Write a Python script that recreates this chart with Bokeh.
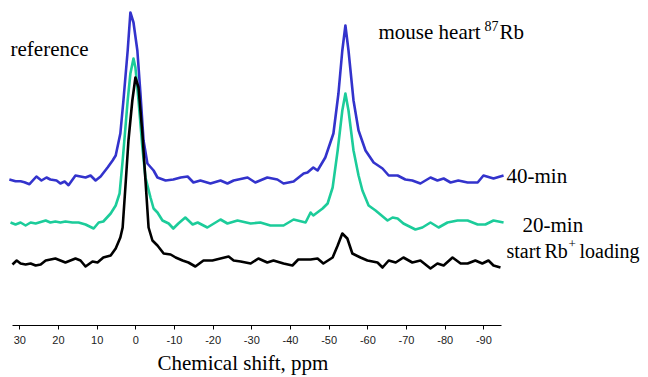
import numpy as np
from bokeh.plotting import figure
from bokeh.models import Range1d, FixedTicker, Label, Title
from bokeh.embed import file_html
from bokeh.resources import INLINE

# ---- data (chemical shift in ppm, intensity in arbitrary units relative to each baseline) ----
ppm_40 = [32.7, 31.1, 29.8, 28.8, 27.5, 25.7, 24.4, 23.1, 22.1, 20.5, 19.5, 18.4, 17.4, 15.6, 14.3,
          13.0, 11.7, 10.4, 9.1, 7.3, 6.0, 5.2, 4.0, 3.2, 2.1, 1.4, 0.6, -0.4, -1.2, -2.0, -3.0,
          -4.6, -5.6, -7.7, -9.7, -11.6, -13.4, -14.9, -16.7, -19.3, -21.9, -23.7, -25.3, -28.9,
          -30.9, -34.0, -36.6, -38.2, -40.8, -43.4, -44.4, -45.9, -47.0, -49.0, -51.1, -52.4,
          -53.4, -54.2, -55.0, -56.3, -57.6, -59.4, -61.5, -63.8, -65.4, -67.7, -69.7, -71.5,
          -73.6, -76.2, -78.0, -79.6, -81.4, -83.4, -85.8, -88.4, -89.9, -92.5, -95.1]
int_40 = [1, -0.7, -0.7, -1.7, -3.7, 4, 0, 3, 1, 0, -3, -1, -4.7, 5, 4,
          3, 5, 0, 4, 13, 20, 25, 47, 80, 130, 168, 158, 130, 87, 40, 17,
          10, 3, 0, 1, 3, 4, -2, 0, -3, 0, -3, 0, 3,
          -2, 3, 1, -3, -1, 7, 8, 13, 10, 23, 47, 87,
          130, 155, 130, 80, 50, 30, 18, 12, 5, 5, 1, 0,
          -3, 3, 0, 2, -2, 0, -2, -2, 5, 2, 5]

ppm_20 = [32.4, 31.1, 29.8, 28.5, 27.2, 25.9, 23.3, 22.1, 20.8, 19.5, 18.2, 16.4, 14.8, 13.0,
          10.9, 9.6, 8.4, 6.5, 5.2, 4.2, 3.4, 2.1, 1.4, 0.6, 0.1, -0.7, -1.7, -2.5, -3.8, -4.6,
          -5.6, -6.9, -8.5, -9.7, -11.0, -12.8, -14.7, -16.0, -18.5, -21.9, -23.7, -26.3, -29.7,
          -32.2, -34.8, -38.2, -40.8, -43.9, -45.2, -45.9, -48.3, -49.6, -50.9, -52.2, -53.4,
          -54.2, -55.0, -56.3, -57.6, -58.6, -60.2, -62.0, -65.1, -66.4, -67.7, -69.2, -72.3,
          -74.1, -76.2, -78.3, -80.6, -83.2, -85.8, -88.4, -90.4, -92.5, -95.1]
int_20 = [0, -2, 0, -3, 0, -1, 2, 0, 1, 0, 1, 0, 0, -2,
          -6, 0, 1, 9, 17, 29, 62, 122, 149, 164, 155, 122, 75, 45, 25, 14,
          10, 2, -1, -6, -1, 5, -2, 0, -5, 3, -1, 2, -1,
          0, -3, -3, 3, 0, 10, 7, 14, 19, 35, 72, 112,
          129, 112, 72, 47, 32, 17, 12, 2, 5, 4, -1, -7,
          -5, 0, -5, 0, 2, 2, -2, -2, 2, 0]

ppm_0 = [31.9, 30.8, 29.8, 28.5, 27.2, 25.9, 24.6, 23.3, 20.8, 19.5, 18.2, 15.6, 14.3, 13.0,
         11.2, 9.9, 8.4, 6.5, 5.2, 4.0, 3.4, 2.7, 1.9, 0.9, 0.1, -0.7, -1.7, -2.5, -3.3, -4.3,
         -5.6, -7.2, -9.0, -10.3, -12.1, -13.6, -15.4, -17.5, -19.8, -21.9, -24.0, -25.3, -27.1,
         -29.7, -31.7, -34.0, -35.6, -38.2, -40.5, -42.0, -45.2, -47.0, -48.5, -50.9, -52.2,
         -53.4, -54.7, -56.0, -58.1, -59.9, -62.5, -63.8, -65.4, -67.2, -69.2, -71.5, -73.6,
         -76.2, -78.0, -79.6, -81.9, -84.0, -85.8, -87.8, -89.6, -91.2, -92.5, -94.3]
int_0 = [-2, 2, -1, -2, -1, -3, -2, 2, 4, 2, 0, 4, 2, -4,
         1, 0, 5, 7, 14, 25, 35, 75, 122, 162, 185, 175, 129, 82, 35, 22,
         17, 9, 8, 5, 2, 0, -4, 2, 2, 4, 6, 2, 1,
         -1, 4, 0, 2, -1, -3, 3, 3, 4, -1, 5, 17,
         29, 24, 9, 5, 2, 0, -5, 2, 0, 5, 0, 2,
         -6, -1, -3, 5, -1, -1, 2, -1, 2, -3, -5]

offsets = {"40-min": 145, "20-min": 103, "start": 63}

tick_values = [30, 20, 10, 0, -10, -20, -30, -40, -50, -60, -70, -80, -90]
tick_labels = ["30", "20", "10", "0", "-10", "-20", "-30", "-40", "-50", "-60", "-70", "-80", "-90"]
x_title = "Chemical shift, ppm"

BLUE = "#3333cc"
GREEN = "#1ccc9a"
BLACK = "#000000"
SERIF = "Liberation Serif"

p = figure(width=648, height=377, output_backend="svg", toolbar_location=None,
           x_range=Range1d(34.99, -132.58), y_range=Range1d(0, 325),
           min_border_left=0, min_border_right=0, min_border_top=0, min_border_bottom=52,
           y_axis_location=None)
p.outline_line_color = None
p.grid.visible = False
p.background_fill_color = "white"
p.border_fill_color = "white"

for xs, ys, off, col in [(ppm_40, int_40, offsets["40-min"], BLUE),
                         (ppm_20, int_20, offsets["20-min"], GREEN),
                         (ppm_0, int_0, offsets["start"], BLACK)]:
    p.line(xs, list(np.array(ys) + off), line_color=col, line_width=2.6, line_join="round")

ax = p.xaxis[0]
ax.ticker = FixedTicker(ticks=tick_values)
ax.major_label_overrides = {v: s for v, s in zip(tick_values, tick_labels)}
ax.bounds = (-94.5, 31.8)
ax.axis_line_color = "#000000"
ax.axis_line_width = 1
ax.major_tick_in = 0
ax.major_tick_out = 4
ax.major_tick_line_color = "#000000"
ax.minor_tick_line_color = None
ax.major_label_text_font = "Liberation Sans"
ax.major_label_text_font_size = "11px"
ax.major_label_text_color = "#222222"
ax.major_label_standoff = 6

p.add_layout(Title(text=x_title, align="left", offset=157, text_font=SERIF,
                   text_font_size="21px", text_font_style="normal", text_color="#000000",
                   standoff=5), "below")


def px2ppm(X):
    return (135.3 - X) / 3.867


def py2y(Y):
    return 325 - Y


def add_text(txt, X, Y, size="21px", align="left"):
    p.add_layout(Label(x=px2ppm(X), y=py2y(Y), text=txt, text_font=SERIF, text_font_size=size,
                       text_color="#000000", text_align=align, text_baseline="alphabetic"))


add_text("reference", 10, 48)
add_text("mouse heart", 378, 31)
add_text("87", 484, 25, size="14px")
add_text("Rb", 499, 31)
add_text("40-min", 506, 175)
add_text("20-min", 522, 224)
add_text("start", 506, 250, size="20px")
add_text("Rb", 544, 250, size="20px")
add_text("+", 568, 243, size="13px")
add_text("loading", 579, 250, size="20px")

open("out.html", "w").write(file_html(p, INLINE))
